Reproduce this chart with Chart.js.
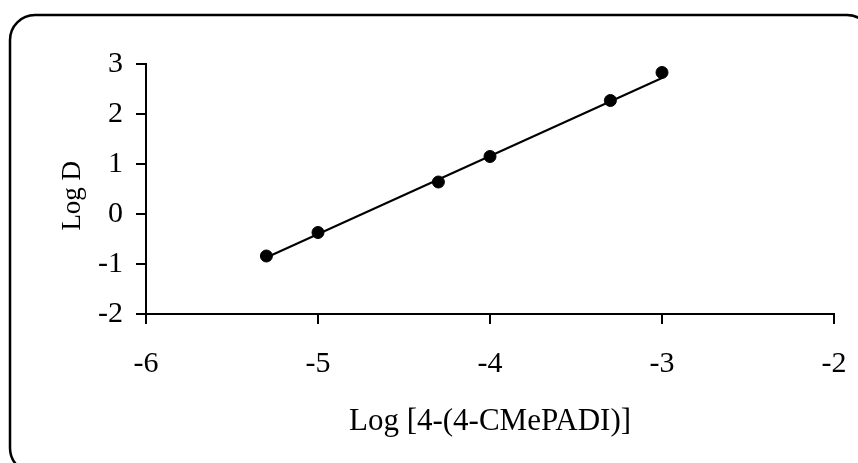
<!DOCTYPE html>
<html>
<head>
<meta charset="utf-8">
<script src="https://cdn.jsdelivr.net/npm/chart.js@4"></script>
<style>
  html, body { margin: 0; padding: 0; background: #fff; }
  #wrap { width: 858px; height: 463px; position: relative; }
</style>
</head>
<body>
<div id="wrap"><canvas id="c" width="858" height="463"></canvas></div>
<script>
// ---- data ----
const logConc = [-5.3, -5.0, -4.3, -4.0, -3.3, -3.0];
const logD    = [-0.84, -0.37, 0.64, 1.15, 2.27, 2.83];
const fitX    = [-5.3, -3.0];
const fitY    = [-0.87, 2.72];
const xTickValues = [-6, -5, -4, -3, -2];
const yTickValues = [-2, -1, 0, 1, 2, 3];
const xTitle = 'Log [4-(4-CMePADI)]';
const yTitle = 'Log D';

const pts = logConc.map((x, i) => ({ x: x, y: logD[i] }));
const fit = fitX.map((x, i) => ({ x: x, y: fitY[i] }));

const frame = {
  id: 'frame',
  afterDraw(chart) {
    const ctx = chart.ctx;
    ctx.save();
    ctx.strokeStyle = '#000';
    ctx.lineWidth = 2.5;
    ctx.beginPath();
    ctx.roundRect(10, 15, 862, 458, 25);
    ctx.stroke();
    ctx.restore();
  }
};

const FONT = 'Liberation Serif, Times New Roman, serif';

new Chart(document.getElementById('c'), {
  type: 'scatter',
  data: {
    datasets: [
      {
        label: 'fit',
        data: fit,
        showLine: true,
        borderColor: '#000',
        borderWidth: 2,
        pointRadius: 0,
        pointHoverRadius: 0,
        order: 2
      },
      {
        label: 'Log D',
        data: pts,
        backgroundColor: '#000',
        borderColor: '#000',
        pointRadius: 6,
        pointHoverRadius: 6,
        order: 1
      }
    ]
  },
  options: {
    responsive: false,
    animation: false,
    events: [],
    layout: { padding: { left: 0, top: 64, right: 24, bottom: 0 } },
    plugins: { legend: { display: false }, tooltip: { enabled: false } },
    scales: {
      x: {
        type: 'linear',
        min: -6, max: -2,
        afterFit(s) { s.height = 149; s.paddingLeft = 0; s.paddingRight = 0; },
        afterBuildTicks(s) { s.ticks = xTickValues.map(v => ({ value: v })); },
        grid: { drawOnChartArea: false, drawTicks: true, tickLength: 10, color: '#000', lineWidth: 2 },
        border: { display: true, color: '#000', width: 2 },
        ticks: { color: '#000', padding: 22, font: { family: FONT, size: 30 }, maxRotation: 0 },
        title: { display: true, text: xTitle, color: '#000', font: { family: FONT, size: 31 }, padding: { top: 0, bottom: 23 } }
      },
      y: {
        type: 'linear',
        min: -2, max: 3,
        afterFit(s) { s.width = 146; s.paddingTop = 0; s.paddingBottom = 0; },
        afterBuildTicks(s) { s.ticks = yTickValues.map(v => ({ value: v })); },
        grid: { drawOnChartArea: false, drawTicks: true, tickLength: 10, color: '#000', lineWidth: 2 },
        border: { display: true, color: '#000', width: 2 },
        ticks: { color: '#000', padding: 13, font: { family: FONT, size: 30 } },
        title: { display: true, text: yTitle + '  ', color: '#000', font: { family: FONT, size: 27 }, padding: { top: 57, bottom: 0 } }
      }
    }
  },
  plugins: [frame]
});
</script>
</body>
</html>
